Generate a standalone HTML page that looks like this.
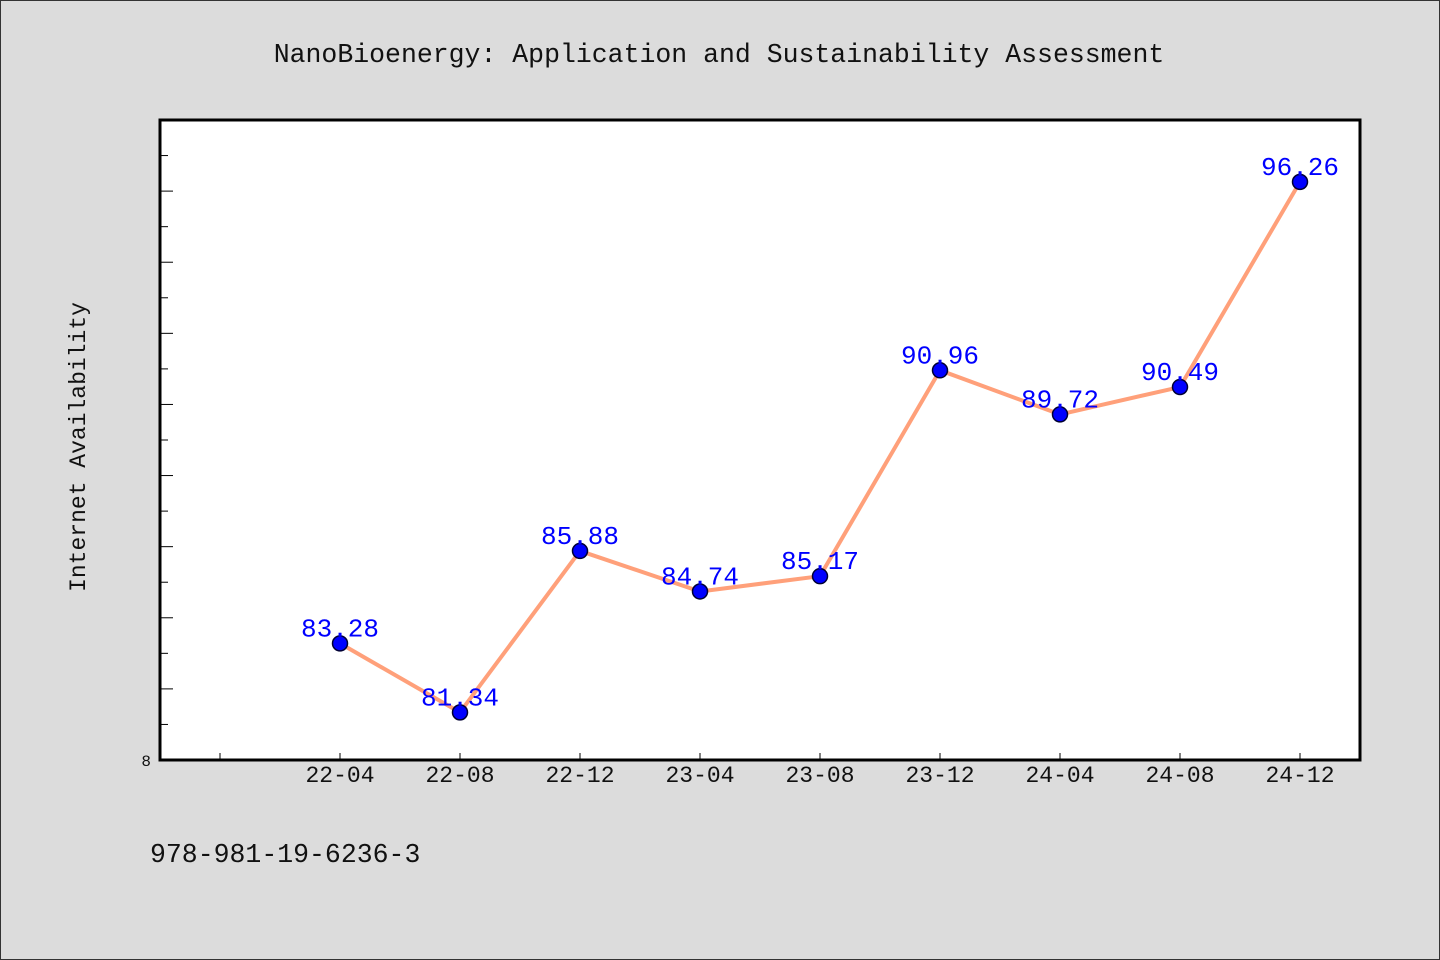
<!DOCTYPE html>
<html><head><meta charset="utf-8"><style>
html,body{margin:0;padding:0;background:#dcdcdc;}
svg{display:block;font-family:"Liberation Mono","Noto Sans CJK SC",monospace;}
</style></head><body>
<svg id="chart" width="1440" height="960">
<rect x="0.5" y="0.5" width="1439" height="959" fill="#dcdcdc" stroke="#333"/>
<text x="719" y="62" text-anchor="middle" font-size="26.5" fill="#111">NanoBioenergy: Application and Sustainability Assessment</text>
<rect x="160" y="120" width="1200" height="640" fill="#fff"/>
<g id="yticks"></g><g id="xticks"></g>
<g id="series"></g>
<rect x="160" y="120" width="1200" height="640" fill="none" stroke="#000" stroke-width="3"/>
<text x="151" y="766" text-anchor="end" font-size="16" fill="#111">8</text>
<text transform="translate(85,447) rotate(-90)" text-anchor="middle" font-size="23" fill="#111">Internet Availability</text>
<text x="150" y="862" font-size="26.5" fill="#111">978-981-19-6236-3</text>
</svg>
<script>
const categories=["22-04","22-08","22-12","23-04","23-08","23-12","24-04","24-08","24-12"];
const values=[83.28,81.34,85.88,84.74,85.17,90.96,89.72,90.49,96.26];
const labels=["83.28","81.34","85.88","84.74","85.17","90.96","89.72","90.49","96.26"];
const yMin=80,yMax=98;
const NS="http://www.w3.org/2000/svg";
function xs(i){return 160+(i+1.5)/10*1200;}
function ys(v){return 760-(v-yMin)/(yMax-yMin)*640;}
function mk(t,a,p){const e=document.createElementNS(NS,t);for(const k in a)e.setAttribute(k,a[k]);p.appendChild(e);return e;}
const yt=document.getElementById('yticks');
for(let v=yMin+1;v<yMax;v++){
 const l=mk('line',{x1:160,x2:v%2===0?173:168,y1:ys(v),y2:ys(v),stroke:'#000','stroke-width':1},yt);
 
 
}
const xt=document.getElementById('xticks');
for(let i=-1;i<categories.length;i++){
 const l=mk('line',{x1:xs(i),x2:xs(i),y1:760,y2:753,stroke:'#000','stroke-width':1},xt);
 
 
 if(i>=0){
  const t=mk('text',{x:xs(i),y:782,'text-anchor':'middle','font-size':23,fill:'#111'},xt);
  t.textContent=categories[i];
  
  
 }
}
const s=document.getElementById('series');
const pl=mk('polyline',{points:values.map((v,i)=>xs(i)+','+ys(v)).join(' '),fill:'none',stroke:'#ffa07a','stroke-width':4,'stroke-linejoin':'round'},s);


values.forEach((v,i)=>{
 const c=mk('circle',{cx:xs(i),cy:ys(v),r:7.5,fill:'#0000ff',stroke:'#000033','stroke-width':1.5},s);
 
 
});
values.forEach((v,i)=>{
 const t=mk('text',{x:xs(i),y:ys(v)-7,'text-anchor':'middle','font-size':26,fill:'#0000ff'},s);
 t.textContent=labels[i];
 
 
});
</script>
</body></html>
